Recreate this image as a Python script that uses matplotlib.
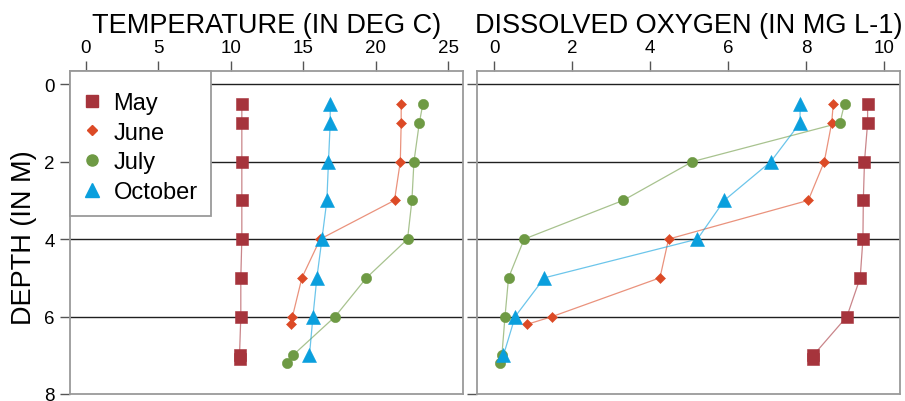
import matplotlib
matplotlib.use("Agg")
import matplotlib.pyplot as plt
from matplotlib.lines import Line2D
from matplotlib.patches import Rectangle

plt.rcParams['font.family'] = ['Liberation Sans', 'DejaVu Sans']

# depth profiles (m) per month
months = ["May", "June", "July", "October"]
depth_may = [0.5, 1, 2, 3, 4, 5, 6, 7, 7.1]
depth_jun = [0.5, 1, 2, 3, 4, 5, 6, 6.2]
depth_jul = [0.5, 1, 2, 3, 4, 5, 6, 7, 7.2]
depth_oct = [0.5, 1, 2, 3, 4, 5, 6, 7]

# temperature (deg C)
temp_may = [10.76, 10.76, 10.76, 10.76, 10.76, 10.69, 10.69, 10.6, 10.6]
temp_jun = [21.74, 21.74, 21.68, 21.28, 16.16, 14.9, 14.25, 14.14]
temp_jul = [23.24, 22.99, 22.62, 22.48, 22.18, 19.35, 17.19, 14.28, 13.9]
temp_oct = [16.85, 16.85, 16.73, 16.62, 16.28, 15.93, 15.66, 15.42]

# dissolved oxygen (mg/L)
do_may = [9.57, 9.57, 9.49, 9.46, 9.45, 9.38, 9.04, 8.18, 8.18]
do_jun = [8.69, 8.65, 8.46, 8.05, 4.47, 4.25, 1.49, 0.85]
do_jul = [8.98, 8.86, 5.08, 3.31, 0.77, 0.37, 0.28, 0.2, 0.15]
do_oct = [7.84, 7.84, 7.09, 5.9, 5.21, 1.29, 0.54, 0.24]

depths = [depth_may, depth_jun, depth_jul, depth_oct]
temps = [temp_may, temp_jun, temp_jul, temp_oct]
oxys = [do_may, do_jun, do_jul, do_oct]

colors = ['#A6343C', '#DC4A26', '#6E9A44', '#0A9FDD']
markers = ['s', 'D', 'o', '^']
msizes = [8, 4.8, 7.4, 10]

fig = plt.figure(figsize=(9.05, 4.02), dpi=100)
ax1 = fig.add_axes([70 / 905, 1 - 395 / 402, 393 / 905, 323 / 402])
ax2 = fig.add_axes([477.3 / 905, 1 - 395 / 402, 422.7 / 905, 323 / 402])

frame_col = '#9A9A9A'
for ax, data, xlim, xticks in [(ax1, temps, (-1.08, 26.0), [0, 5, 10, 15, 20, 25]),
                               (ax2, oxys, (-0.43, 10.4), [0, 2, 4, 6, 8, 10])]:
    for ygrid in [0, 2, 4, 6]:
        ax.axhline(ygrid, color='#202020', lw=1.0, zorder=1)
    for d, v, c, m, ms in zip(depths, data, colors, markers, msizes):
        ax.plot(v, d, color=c, lw=0.9, alpha=0.6, zorder=2)
        ax.plot(v, d, ls='none', marker=m, ms=ms, color=c, mec=c, mew=0.4, zorder=3)
    ax.set_xlim(*xlim)
    ax.set_ylim(8.0, -0.34)
    ax.set_xticks(xticks)
    ax.set_yticks([0, 2, 4, 6, 8])
    ax.xaxis.tick_top()
    ax.tick_params(axis='x', top=True, bottom=False, labelsize=13.5, length=7.5,
                   width=1, color='#555555', pad=3)
    ax.tick_params(axis='y', labelsize=13.5, length=7, width=1, color='#555555', pad=4)
    for s in ax.spines.values():
        s.set_color(frame_col)
        s.set_linewidth(1.3)

ax2.tick_params(axis='y', labelleft=False)

# legend: entries without frame, plus a plain box flush with the top-left corner
handles = [Line2D([], [], ls='none', marker=m, ms=ms, color=c, mec=c)
           for c, m, ms in zip(colors, markers, [8, 5.6, 8, 10])]
leg = ax1.legend(handles, months, loc='upper left', bbox_to_anchor=(0.0252, 0.9356),
                 borderaxespad=0, borderpad=0, fontsize=17, frameon=False,
                 handlelength=1.0, handletextpad=0.42, labelspacing=0.33)
leg.set_zorder(6)
ax1.add_patch(Rectangle((0, 0.551), 0.358, 0.449, transform=ax1.transAxes,
                        facecolor='white', edgecolor=frame_col, lw=1.3, zorder=5,
                        clip_on=False))

fig.text(266.5 / 905, 1 - 33 / 402, 'TEMPERATURE (IN DEG C)', fontsize=19.5,
         ha='center', va='baseline')
fig.text(688.5 / 905, 1 - 33 / 402, 'DISSOLVED OXYGEN (IN MG L-1)', fontsize=19.5,
         ha='center', va='baseline')
fig.text(37 / 905, 1 - 238 / 402, 'DEPTH (IN M)', fontsize=19.5, rotation=90,
         ha='right', va='center')

fig.savefig('out.png', dpi=100)
